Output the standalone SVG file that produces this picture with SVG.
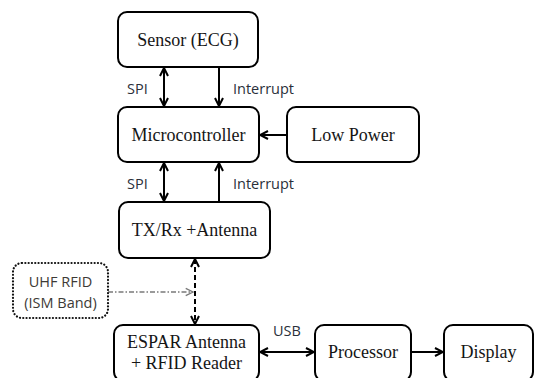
<svg xmlns="http://www.w3.org/2000/svg" width="534" height="378" viewBox="0 0 534 378">
  <style>
    .box { fill: #fff; stroke: #000; stroke-width: 2; }
    .dotbox { fill: #fff; stroke: #111; stroke-width: 2.2; stroke-dasharray: 0.1 3.2; stroke-linecap: round; }
    .name { font-family: "Liberation Serif", "Times New Roman", serif; font-size: 18px; fill: #151515; text-anchor: middle; }
    .lbl { font-family: "Open Sans", "Liberation Sans", sans-serif; font-size: 14.5px; fill: #2a2f3a; }
    .uhf { font-family: "Open Sans", "Liberation Sans", sans-serif; font-size: 14.5px; fill: #3d3a36; text-anchor: middle; }
    .wire { fill: none; stroke: #000; stroke-width: 2; }
    .dash { fill: none; stroke: #000; stroke-width: 2; stroke-dasharray: 5 3; }
    .thin { fill: none; stroke: #7a7a7a; stroke-width: 1.3; stroke-dasharray: 5 2 1.5 2; }
  </style>
  <defs>
    <marker id="head" viewBox="0 0 10 10" refX="9" refY="5" markerWidth="5" markerHeight="5" orient="auto-start-reverse" markerUnits="strokeWidth">
      <path d="M1,1 L9,5 L1,9" fill="none" stroke="#000" stroke-width="2"/>
    </marker>
    <marker id="grayhead" viewBox="0 0 10 10" refX="9" refY="5" markerWidth="7" markerHeight="7" orient="auto" markerUnits="strokeWidth">
      <path d="M1,1 L9,5 L1,9" fill="none" stroke="#7a7a7a" stroke-width="1.4"/>
    </marker>
  </defs>

  <!-- links between blocks -->
  <g id="connectors">
    <line class="wire" x1="164" y1="68" x2="164" y2="106" marker-start="url(#head)" marker-end="url(#head)"/>
    <line class="wire" x1="219" y1="67" x2="219" y2="106" marker-end="url(#head)"/>
    <line class="wire" x1="287" y1="135" x2="260" y2="135" marker-end="url(#head)"/>
    <line class="wire" x1="164" y1="163" x2="164" y2="201" marker-start="url(#head)" marker-end="url(#head)"/>
    <line class="wire" x1="219" y1="202" x2="219" y2="163" marker-end="url(#head)"/>
    <line class="dash" x1="195" y1="259" x2="195" y2="324" marker-start="url(#head)" marker-end="url(#head)"/>
    <line class="thin" x1="108" y1="292" x2="193" y2="292" marker-end="url(#grayhead)"/>
    <line class="wire" x1="260" y1="352" x2="314" y2="352" marker-start="url(#head)" marker-end="url(#head)"/>
    <line class="wire" x1="411" y1="352" x2="443" y2="352" marker-end="url(#head)"/>
    <text class="lbl" x="127" y="94">SPI</text>
    <text class="lbl" x="233" y="94">Interrupt</text>
    <text class="lbl" x="127" y="189">SPI</text>
    <text class="lbl" x="233" y="189">Interrupt</text>
    <text class="lbl" x="273" y="336">USB</text>
  </g>

  <g id="sensor">
    <rect class="box" x="118" y="12" width="140" height="55" rx="9"/>
    <text class="name" x="188" y="46">Sensor (ECG)</text>
  </g>

  <g id="microcontroller">
    <rect class="box" x="118" y="107" width="141" height="55" rx="9"/>
    <text class="name" x="188.5" y="141">Microcontroller</text>
  </g>

  <g id="low-power">
    <rect class="box" x="287" y="107" width="132" height="55" rx="9"/>
    <text class="name" x="353" y="141">Low Power</text>
  </g>

  <g id="txrx">
    <rect class="box" x="119" y="202" width="151" height="56" rx="9"/>
    <text class="name" x="194.5" y="236">TX/Rx +Antenna</text>
  </g>

  <g id="uhf-rfid">
    <rect class="dotbox" x="13" y="263" width="95" height="55" rx="9"/>
    <text class="uhf" x="60.5" y="287">UHF RFID</text>
    <text class="uhf" x="60.5" y="308">(ISM Band)</text>
  </g>

  <g id="espar">
    <rect class="box" x="114" y="325" width="145" height="56" rx="9"/>
    <text class="name" x="186.5" y="348">ESPAR Antenna</text>
    <text class="name" x="186.5" y="369">+ RFID Reader</text>
  </g>

  <g id="processor">
    <rect class="box" x="315" y="325" width="96" height="56" rx="9"/>
    <text class="name" x="363" y="358">Processor</text>
  </g>

  <g id="display">
    <rect class="box" x="444" y="325" width="89" height="56" rx="9"/>
    <text class="name" x="488.5" y="358">Display</text>
  </g>
</svg>
